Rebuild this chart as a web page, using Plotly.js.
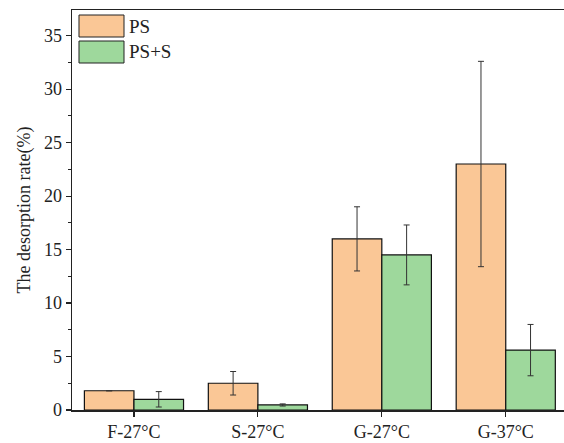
<!DOCTYPE html>
<html><head><meta charset="utf-8">
<script src="https://cdn.plot.ly/plotly-3.0.1.min.js"></script>
<style>html,body{margin:0;padding:0;background:#fff}#chart{width:564px;height:443px}</style>
</head><body><div id="chart"></div>
<script>
const categories = ["F-27°C", "S-27°C", "G-27°C", "G-37°C"];
const seriesNames = ["PS", "PS+S"];
const psValues = [1.8, 2.5, 16.0, 23.0];
const psErrors = [null, 1.1, 3.0, 9.6];
const pssValues = [1.0, 0.47, 14.5, 5.6];
const pssErrors = [0.72, 0.1, 2.8, 2.4];
const yTickVals = [0, 5, 10, 15, 20, 25, 30, 35];

const colors = ["#FAC796", "#9ED89C"];
const font = "Liberation Serif, Times New Roman, serif";
const errStyle = {type: "data", visible: true, color: "#333", thickness: 1, width: 3};

const traces = [
  {type: "bar", name: seriesNames[0], x: categories, y: psValues,
   error_y: Object.assign({array: psErrors}, errStyle),
   marker: {color: colors[0], line: {color: "#111", width: 1.2}}},
  {type: "bar", name: seriesNames[1], x: categories, y: pssValues,
   error_y: Object.assign({array: pssErrors}, errStyle),
   marker: {color: colors[1], line: {color: "#111", width: 1.2}}}
];

const layout = {
  width: 564, height: 443,
  margin: {l: 72, r: 0, t: 10, b: 33},
  paper_bgcolor: "#fff", plot_bgcolor: "#fff",
  font: {family: font, size: 18, color: "#222"},
  showlegend: false,
  barmode: "group", bargap: 0.2, bargroupgap: 0,
  xaxis: {
    type: "category", range: [-0.5, 3.47],
    showline: true, linecolor: "#222", linewidth: 1.5, mirror: true,
    ticks: "outside", ticklen: 5, tickcolor: "#222", tickwidth: 1.2,
    showgrid: false, zeroline: false,
    tickfont: {family: font, size: 18, color: "#222"},
    minor: {ticks: "outside", ticklen: 3, tickcolor: "#222", tick0: 0.5, dtick: 1, showgrid: false}
  },
  yaxis: {
    range: [0, 37.4],
    tickmode: "array", tickvals: yTickVals,
    showline: true, linecolor: "#222", linewidth: 1.5, mirror: false,
    ticks: "outside", ticklen: 5, tickcolor: "#222", tickwidth: 1.2,
    showgrid: false, zeroline: false,
    tickfont: {family: font, size: 18, color: "#222"},
    minor: {ticks: "outside", ticklen: 3, tickcolor: "#222", tick0: 2.5, dtick: 5, showgrid: false},
    title: {text: "The desorption rate(%)", font: {family: font, size: 18, color: "#222"}, standoff: 8}
  },
  shapes: [
    {type: "rect", xref: "paper", yref: "paper", x0: 0.0142, x1: 0.1057, y0: 0.9325, y1: 0.9875,
     fillcolor: colors[0], line: {color: "#222", width: 1}},
    {type: "rect", xref: "paper", yref: "paper", x0: 0.0142, x1: 0.1057, y0: 0.8675, y1: 0.9225,
     fillcolor: colors[1], line: {color: "#222", width: 1}}
  ],
  annotations: [
    {xref: "paper", yref: "paper", x: 0.112, y: 0.96, xanchor: "left", yanchor: "middle",
     text: seriesNames[0], showarrow: false, font: {family: font, size: 19, color: "#222"}},
    {xref: "paper", yref: "paper", x: 0.112, y: 0.895, xanchor: "left", yanchor: "middle",
     text: seriesNames[1], showarrow: false, font: {family: font, size: 19, color: "#222"}}
  ]
};

Plotly.newPlot("chart", traces, layout, {displayModeBar: false, staticPlot: true});
</script></body></html>
